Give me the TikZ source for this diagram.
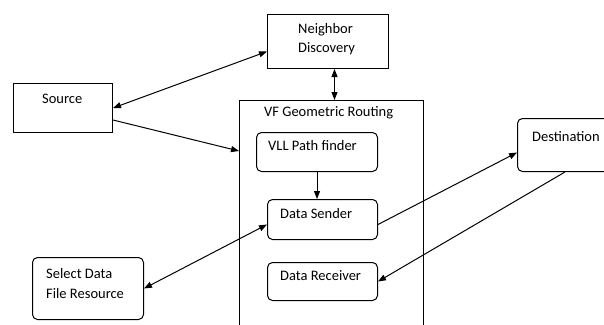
\documentclass[tikz,border=0pt]{standalone}
\usepackage{fontspec}
\setmainfont{Carlito}
\usetikzlibrary{arrows.meta,calc}
\begin{document}
\begin{tikzpicture}[x=1pt,y=-1pt,
  box/.style={draw,line width=1pt,anchor=north west,inner sep=0pt},
  rbox/.style={box,rounded corners=5pt},
  txt/.style={anchor=west,inner sep=0pt,align=left,font=\fontsize{14.5}{19.5}\selectfont},
  conn/.style={line width=1pt,-{Triangle[length=8pt,width=6pt]}},
  dconn/.style={line width=1pt,{Triangle[length=8pt,width=6pt]}-{Triangle[length=8pt,width=6pt]}}]
\useasboundingbox (0,0) rectangle (604,324);
% boxes
\node[box,minimum width=121pt,minimum height=54pt] (nd) at (267,14) {};
\node[box,minimum width=99pt,minimum height=49pt] (src) at (13,83) {};
\node[box,draw=none,minimum width=183pt,minimum height=226pt] (vf) at (239,100) {};
\draw[line width=1pt] (vf.south west) -- (vf.north west) -- (vf.north east) -- (vf.south east);
\node[rbox,minimum width=121pt,minimum height=39pt] (vll) at (256,132) {};
\node[rbox,minimum width=110pt,minimum height=40pt] (ds) at (267,199) {};
\node[rbox,minimum width=110pt,minimum height=38pt] (dr) at (267,262) {};
\node[rbox,minimum width=100pt,minimum height=53pt] (dest) at (517,118) {};
\node[rbox,minimum width=111pt,minimum height=62pt] (sel) at (32,257) {};
% texts
\node[txt] (ndt) at (298,39) {Neighbor\\Discovery};
\node[txt] (srct) at (42,99) {Source};
\node[txt] (vft) at (264,113) {VF Geometric Routing};
\node[txt] (vllt) at (268,146) {VLL Path finder};
\node[txt] (dst) at (280,214) {Data Sender};
\node[txt] (drt) at (280,276) {Data Receiver};
\node[txt] (destt) at (532,137) {Destination};
\node[txt] (selt) at (46,283.5) {Select Data\\File Resource};
% connectors
\draw[dconn] (src.east) -- ([yshift=-10pt]nd.west);
\draw[conn] ([yshift=-12pt]src.east) -- ([yshift=-51pt]vf.north west);
\draw[dconn] ([xshift=6.5pt]nd.south) -- ([xshift=6.5pt]nd.south |- vf.north);
\draw[conn] (vll.south) -- (vll.south |- ds.north);
\draw[conn] ([yshift=-5pt]ds.east) -- ([yshift=-7.5pt]dest.west);
\draw[conn] ([xshift=48pt]dest.south west) -- (dr.east);
\draw[dconn] (sel.east) -- ([yshift=-5pt]ds.west);
\end{tikzpicture}
\end{document}
